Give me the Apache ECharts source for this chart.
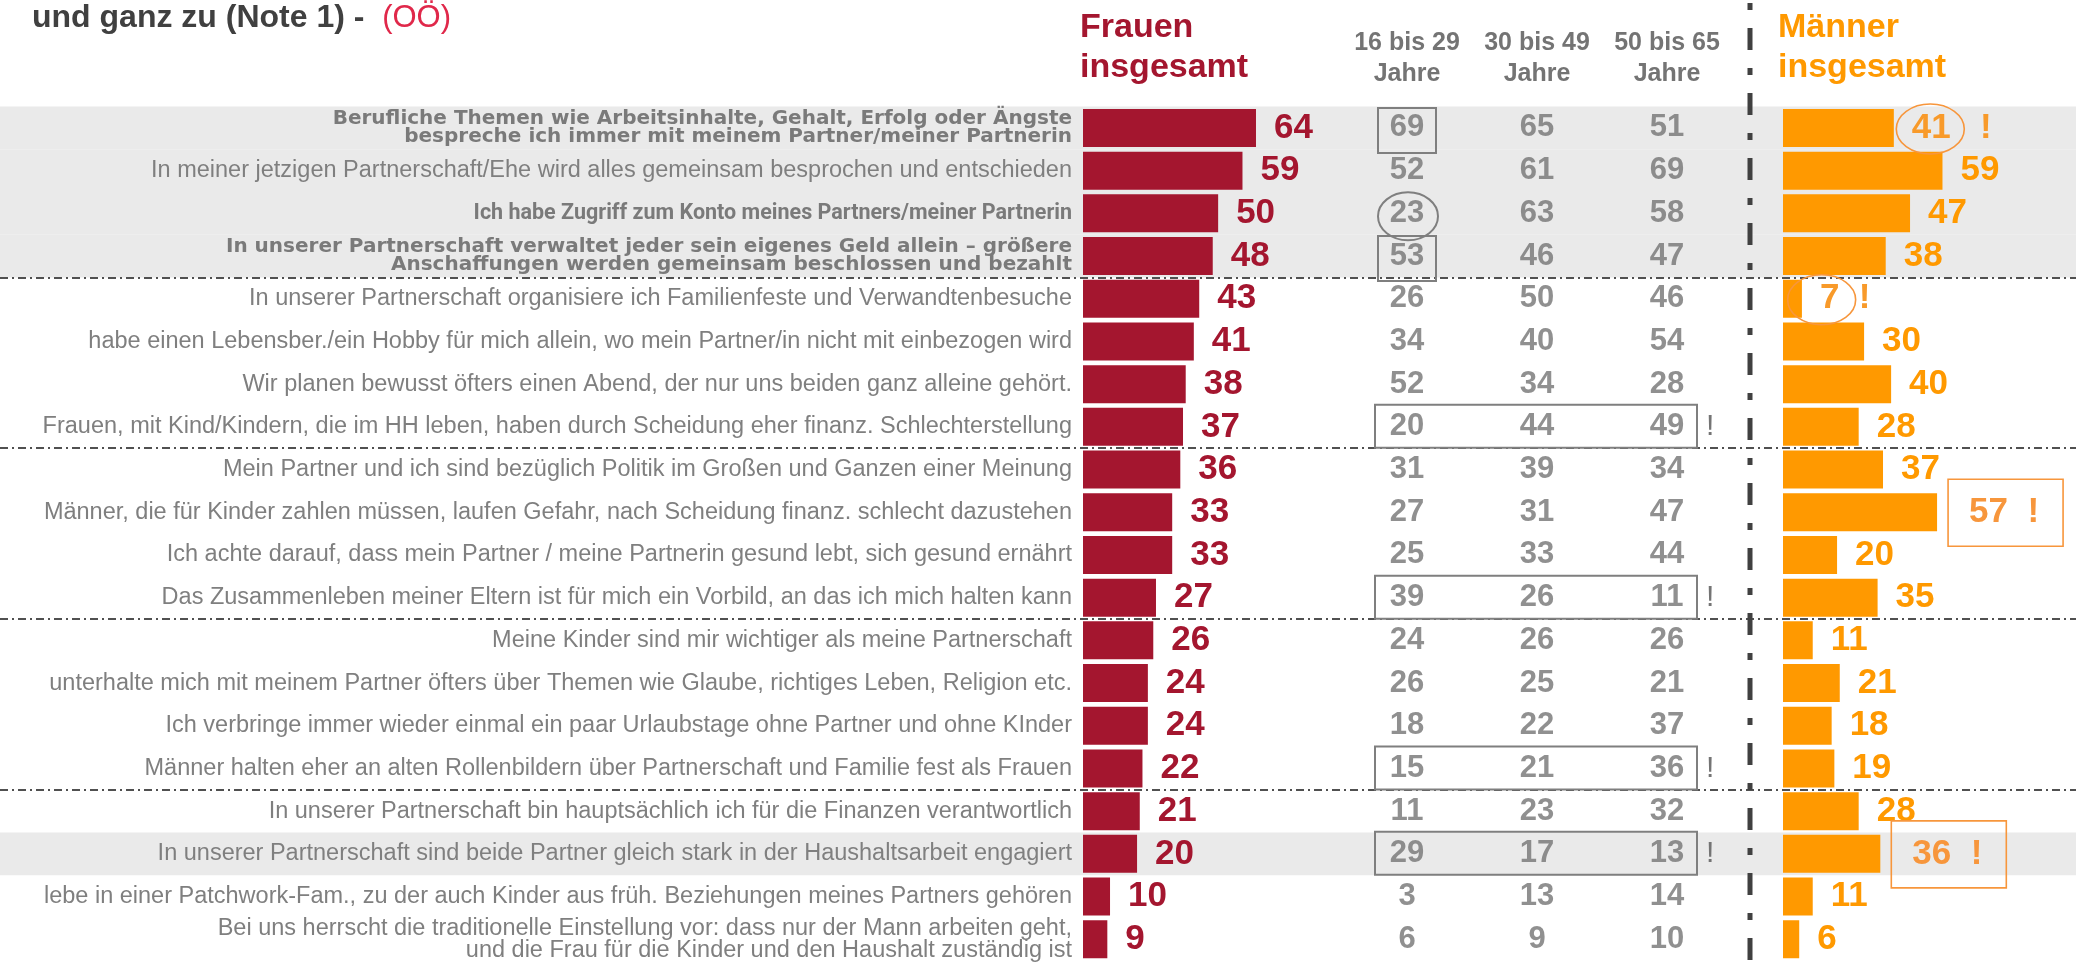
<!DOCTYPE html>
<html><head><meta charset="utf-8">
<script src="https://cdn.jsdelivr.net/npm/echarts@6/dist/echarts.min.js"></script>
<style>html,body{margin:0;padding:0;background:#fff}#c{width:2076px;height:965px}</style>
</head><body><div id="c"></div>
<script>
const categories = [
  "Berufliche Themen wie Arbeitsinhalte, Gehalt, Erfolg oder Ängste\nbespreche ich immer mit meinem Partner/meiner Partnerin",
  "In meiner jetzigen Partnerschaft/Ehe wird alles gemeinsam besprochen und entschieden",
  "Ich habe Zugriff zum Konto meines Partners/meiner Partnerin",
  "In unserer Partnerschaft verwaltet jeder sein eigenes Geld allein – größere\nAnschaffungen werden gemeinsam beschlossen und bezahlt",
  "In unserer Partnerschaft organisiere ich Familienfeste und Verwandtenbesuche",
  "habe einen Lebensber./ein Hobby für mich allein, wo mein Partner/in nicht mit einbezogen wird",
  "Wir planen bewusst öfters einen Abend, der nur uns beiden ganz alleine gehört.",
  "Frauen, mit Kind/Kindern, die im HH leben, haben durch Scheidung eher finanz. Schlechterstellung",
  "Mein Partner und ich sind bezüglich Politik im Großen und Ganzen einer Meinung",
  "Männer, die für Kinder zahlen müssen, laufen Gefahr, nach Scheidung finanz. schlecht dazustehen",
  "Ich achte darauf, dass mein Partner / meine Partnerin gesund lebt, sich gesund ernährt",
  "Das Zusammenleben meiner Eltern ist für mich ein Vorbild, an das ich mich halten kann",
  "Meine Kinder sind mir wichtiger als meine Partnerschaft",
  "unterhalte mich mit meinem Partner öfters über Themen wie Glaube, richtiges Leben, Religion etc.",
  "Ich verbringe immer wieder einmal ein paar Urlaubstage ohne Partner und ohne KInder",
  "Männer halten eher an alten Rollenbildern über Partnerschaft und Familie fest als Frauen",
  "In unserer Partnerschaft bin hauptsächlich ich für die Finanzen verantwortlich",
  "In unserer Partnerschaft sind beide Partner gleich stark in der Haushaltsarbeit engagiert",
  "lebe in einer Patchwork-Fam., zu der auch Kinder aus früh. Beziehungen meines Partners gehören",
  "Bei uns herrscht die traditionelle Einstellung vor: dass nur der Mann arbeiten geht,\nund die Frau für die Kinder und den Haushalt zuständig ist"
];
const boldWideRows = [0, 3];
const boldRows = [2];
const frauen  = [64, 59, 50, 48, 43, 41, 38, 37, 36, 33, 33, 27, 26, 24, 24, 22, 21, 20, 10, 9];
const age16   = [69, 52, 23, 53, 26, 34, 52, 20, 31, 27, 25, 39, 24, 26, 18, 15, 11, 29, 3, 6];
const age30   = [65, 61, 63, 46, 50, 40, 34, 44, 39, 31, 33, 26, 26, 25, 22, 21, 23, 17, 13, 9];
const age50   = [51, 69, 58, 47, 46, 54, 28, 49, 34, 47, 44, 11, 26, 21, 37, 36, 32, 13, 14, 10];
const maenner = [41, 59, 47, 38, 7, 30, 40, 28, 37, 57, 20, 35, 11, 21, 18, 19, 28, 36, 11, 6];
const ageHeaders = ["16 bis 29\nJahre", "30 bis 49\nJahre", "50 bis 65\nJahre"];
const bandRows = [0, 1, 2, 3, 17];
const groupBreaks = [4, 8, 12, 16];
const ageBoxRows = [0, 3];
const ageCircleRows = [2];
const ageWideBoxRows = [7, 11, 15, 17];
const menCircleRows = [0, 4];
const menBoxRows = [9, 17];

const FONT = "'Liberation Sans', Arial, sans-serif";
const RED = '#A4162F', ORANGE = '#FF9900', ORANGE2 = '#F7963C', GREY = '#747474', LBL = '#7F7F7F';
const TOP = 106.6, ROWH = 42.7, N = categories.length, H = ROWH * N;

function hasFont(name) {
  const cv = document.createElement('canvas').getContext('2d');
  const s = 'Ich habe Zugriff zum Konto meines Partners';
  cv.font = 'bold 24px monospace'; const a = cv.measureText(s).width;
  cv.font = "bold 24px '" + name + "', monospace"; const b = cv.measureText(s).width;
  return Math.abs(a - b) > 1;
}
const kStyle = hasFont('Liberation Sans Narrow')
  ? {fontFamily: "'Liberation Sans Narrow'", fontWeight: 'bold', fontSize: 24, lineHeight: 26, color: '#7A7A7A', align: 'right'}
  : hasFont('Roboto')
    ? {fontFamily: 'Roboto', fontWeight: 'bold', fontSize: 21.5, lineHeight: 26, color: '#7A7A7A', align: 'right'}
    : {fontFamily: FONT, fontWeight: 'bold', fontSize: 19.5, lineHeight: 24, color: '#7A7A7A', align: 'right'};

const chart = echarts.init(document.getElementById('c'), null, {renderer: 'canvas'});

const ageData = [];
[age16, age30, age50].forEach((arr, c) => arr.forEach((v, r) => ageData.push([c, r, v])));

const hiddenCat = (g) => ({gridIndex: g, type: 'category', data: categories, inverse: true, show: false});
const grid = (left, width) => ({left, width, top: TOP, height: H, outerBoundsMode: 'none', containLabel: false});

chart.setOption({
  animation: false,
  backgroundColor: '#ffffff',
  title: [
    {text: 'und ganz zu (Note 1) -  {r|(OÖ)}', left: 32, top: 2, padding: 0,
     textStyle: {fontSize: 32, fontWeight: 'bold', color: '#404040', fontFamily: FONT,
       rich: {r: {fontSize: 31, color: '#E0284A', fontWeight: 'normal', fontFamily: FONT}}}},
    {text: 'Frauen\ninsgesamt', left: 1080, top: 8, padding: 0,
     textStyle: {fontSize: 34, lineHeight: 40, fontWeight: 'bold', color: RED, fontFamily: FONT}},
    {text: 'Männer\ninsgesamt', left: 1778, top: 8, padding: 0,
     textStyle: {fontSize: 34, lineHeight: 40, fontWeight: 'bold', color: ORANGE, fontFamily: FONT}}
  ],
  grid: [grid(0, 2076), grid(1083, 270.3), grid(1342, 390), grid(1783, 270.3), grid(0, 2076)],
  xAxis: [
    {gridIndex: 0, type: 'value', min: 0, max: 1, show: false},
    {gridIndex: 1, type: 'value', min: 0, max: 100, show: false},
    {gridIndex: 2, type: 'category', data: ageHeaders, position: 'top',
     axisLine: {show: false}, axisTick: {show: false}, splitLine: {show: false},
     axisLabel: {interval: 0, fontSize: 25, fontWeight: 'bold', color: GREY, lineHeight: 31, margin: 17, fontFamily: FONT}},
    {gridIndex: 3, type: 'value', min: 0, max: 100, show: false},
    {gridIndex: 4, type: 'value', min: 0, max: 1, show: false}
  ],
  yAxis: [
    hiddenCat(0),
    {gridIndex: 1, type: 'category', data: categories, inverse: true,
     axisLine: {show: false}, axisTick: {show: false}, splitLine: {show: false},
     axisLabel: {interval: 0, margin: 11, align: 'right',
       formatter: (v, i) => boldWideRows.includes(i) ? '{b|' + v + '}' :
         boldRows.includes(i) ? '{k|' + v + '}' :
         (v.indexOf('\n') >= 0 ? '{s|' + v + '}' : '{r|' + v + '}'),
       rich: {
         b: {fontFamily: "'DejaVu Sans', sans-serif", fontWeight: 'bold', fontSize: 20, lineHeight: 18, color: '#7A7A7A', align: 'right'},
         k: kStyle,
         r: {fontFamily: FONT, fontSize: 23.5, lineHeight: 26, color: LBL, align: 'right'},
         s: {fontFamily: FONT, fontSize: 23.5, lineHeight: 22, color: LBL, align: 'right'}
       }}},
    hiddenCat(2),
    hiddenCat(3),
    {gridIndex: 4, type: 'value', min: 0, max: N, inverse: true, show: false}
  ],
  series: [
    {type: 'bar', name: 'band', xAxisIndex: 0, yAxisIndex: 0, silent: true, z: 0,
     barWidth: '100%', itemStyle: {color: '#EAEAEA'},
     data: categories.map((c, i) => bandRows.includes(i) ? 1 : '-')},
    {type: 'bar', name: 'Frauen insgesamt', xAxisIndex: 1, yAxisIndex: 1, barWidth: 38, z: 3,
     itemStyle: {color: RED}, data: frauen,
     label: {show: true, position: 'right', distance: 18, fontSize: 35, fontWeight: 'bold', color: RED, fontFamily: FONT}},
    {type: 'scatter', name: 'Alter', xAxisIndex: 2, yAxisIndex: 2, symbolSize: 1, z: 3,
     itemStyle: {color: 'rgba(0,0,0,0)'}, data: ageData,
     label: {show: true, position: 'inside', formatter: p => p.value[2], fontSize: 31, fontWeight: 'bold', color: GREY, fontFamily: FONT}},
    {type: 'bar', name: 'Männer insgesamt', xAxisIndex: 3, yAxisIndex: 3, barWidth: 38, z: 3,
     itemStyle: {color: ORANGE},
     data: maenner.map((v, i) => {
       if (menCircleRows.includes(i)) return {value: v, label: {formatter: v + (v >= 10 ? '   !' : '  !'), color: '#F89A2A'}};
       if (menBoxRows.includes(i)) return {value: v, label: {formatter: v + '  !', color: ORANGE2, distance: 32}};
       return v;
     }),
     label: {show: true, position: 'right', distance: 18, fontSize: 35, fontWeight: 'bold', color: ORANGE, fontFamily: FONT}},
    {type: 'line', name: 'sep', xAxisIndex: 4, yAxisIndex: 4, data: [[0, 0]], symbol: 'none', silent: true, z: 4,
     lineStyle: {opacity: 0},
     markLine: {silent: true, symbol: 'none', label: {show: false},
       lineStyle: {type: [8, 4, 2, 4], color: '#505050', width: 2},
       data: groupBreaks.map(b => ({yAxis: b}))}}
  ]
});

const px = (ai, x, y) => chart.convertToPixel({xAxisIndex: ai, yAxisIndex: ai}, [x, y]);
const els = [];
ageBoxRows.forEach(r => {
  const c = px(2, 0, r);
  els.push({type: 'rect', shape: {x: c[0] - 29, y: c[1] - 20, width: 58, height: 45},
    style: {fill: 'none', stroke: '#7F7F7F', lineWidth: 2}, z: 10});
});
ageCircleRows.forEach(r => {
  const c = px(2, 0, r);
  els.push({type: 'ellipse', shape: {cx: c[0] + 1, cy: c[1] + 3, rx: 30, ry: 24},
    style: {fill: 'none', stroke: '#7F7F7F', lineWidth: 2}, z: 10});
});
ageWideBoxRows.forEach(r => {
  const a = px(2, 0, r), b = px(2, 2, r);
  const x0 = a[0] - 32, x1 = b[0] + 30;
  els.push({type: 'rect', shape: {x: x0, y: a[1] - 22, width: x1 - x0, height: 43},
    style: {fill: 'none', stroke: '#7F7F7F', lineWidth: 2}, z: 10});
  els.push({type: 'text', x: x1 + 9, y: a[1], z: 10,
    style: {text: '!', fontSize: 30, fontFamily: FONT, fill: GREY, verticalAlign: 'middle', align: 'left'}});
});
menCircleRows.forEach(r => {
  const v = maenner[r];
  const c = px(3, v, r);
  const w = String(v).length * 0.556 * 35;
  const shift = v < 10 ? -7 : 0;
  els.push({type: 'ellipse', shape: {cx: c[0] + 17 + w / 2 + shift, cy: c[1] + 1, rx: 34, ry: 25},
    style: {fill: 'none', stroke: ORANGE2, lineWidth: 1.6}, z: 10});
});
menBoxRows.forEach(r => {
  const v = maenner[r];
  const c = px(3, v, r);
  els.push({type: 'rect', shape: {x: c[0] + 11, y: c[1] - 33, width: 115, height: 67},
    style: {fill: 'none', stroke: ORANGE2, lineWidth: 1.6}, z: 10});
});
const gx = px(3, 0, 0)[0] - 33;
els.push({type: 'line', shape: {x1: gx, y1: 3, x2: gx, y2: 965}, z: 10,
  style: {stroke: '#404040', lineWidth: 5, lineDash: [7, 18, 22, 18]}});
chart.setOption({graphic: {elements: els}});
</script>
</body></html>
